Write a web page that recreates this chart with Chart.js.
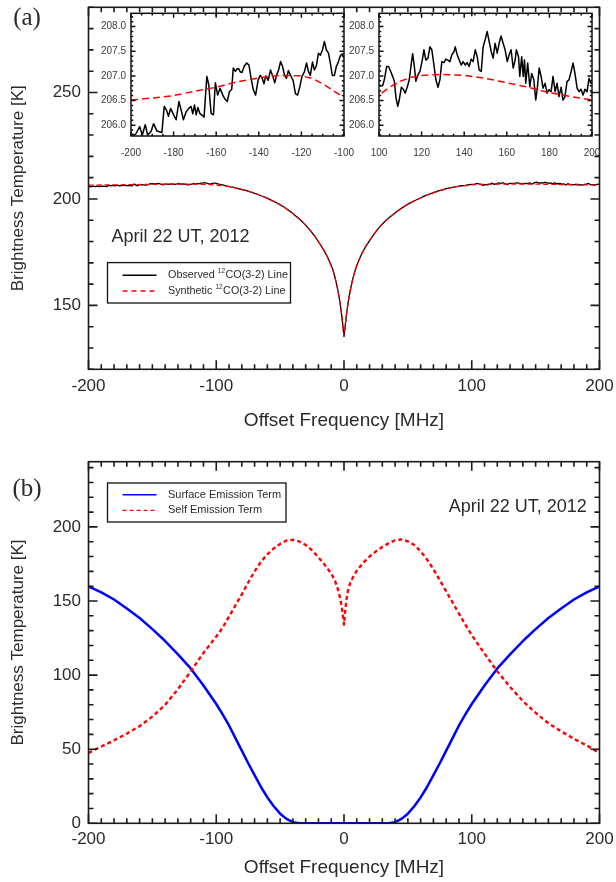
<!DOCTYPE html>
<html>
<head>
<meta charset="utf-8">
<script src="https://cdn.jsdelivr.net/npm/chart.js@4.4.1/dist/chart.umd.min.js"></script>
<style>
  html, body { margin: 0; padding: 0; background: #fff; }
  #wrap { position: relative; width: 616px; height: 882px; overflow: hidden; background: #fff; }
  canvas { position: absolute; }
</style>
</head>
<body>
<div id="wrap">
  <canvas id="cA" width="616" height="440" style="left:0;top:0;width:616px;height:440px"></canvas>
  <canvas id="cL" width="265" height="175" style="left:90px;top:0;width:265px;height:175px"></canvas>
  <canvas id="cR" width="278" height="175" style="left:338px;top:0;width:278px;height:175px"></canvas>
  <canvas id="cB" width="616" height="442" style="left:0;top:440px;width:616px;height:442px"></canvas>
</div>
<script>
// ---------- tick labels ----------
const freqTicks = [-200, -100, 0, 100, 200];
const tempTicksA = [150, 200, 250];
const tempTicksB = [0, 50, 100, 150, 200];
const zoomTempTicks = [206.0, 206.5, 207.0, 207.5, 208.0];
const zoomFreqTicksL = [-200, -180, -160, -140, -120, -100];
const zoomFreqTicksR = [100, 120, 140, 160, 180, 200];

// ---------- observed 12CO(3-2) line, [offset MHz, T_B K] ----------
const obsWingLeft = [
  [-200.0,205.82],[-198.0,205.80],[-195.9,205.97],[-194.7,205.80],[-193.3,206.01],[-192.2,205.80],
  [-190.6,205.87],[-189.4,206.03],[-187.8,205.88],[-185.5,205.85],[-184.4,206.38],[-183.3,206.30],
  [-182.4,206.18],[-181.4,206.34],[-180.0,206.21],[-178.8,206.11],[-177.5,206.48],[-176.4,206.30],
  [-175.4,206.11],[-174.1,206.27],[-172.9,206.34],[-171.8,206.38],[-171.0,206.23],[-170.2,206.41],
  [-169.4,206.21],[-168.6,206.36],[-167.7,206.24],[-166.6,206.20],[-165.7,206.16],[-164.4,206.99],
  [-163.5,206.82],[-162.4,206.24],[-161.3,206.21],[-160.4,206.86],[-159.3,206.61],[-158.2,206.75],
  [-156.9,206.61],[-155.9,206.53],[-154.8,206.48],[-153.8,206.68],[-152.7,206.73],[-152.0,207.16],
  [-151.0,207.09],[-150.2,207.14],[-149.5,207.15],[-148.7,207.08],[-147.9,207.07],[-146.8,207.20],
  [-145.7,207.26],[-144.6,207.22],[-143.7,206.97],[-142.6,206.72],[-141.5,206.61],[-140.3,206.92],
  [-139.3,207.01],[-138.4,206.95],[-137.6,206.84],[-136.7,207.00],[-135.6,206.91],[-134.5,207.12],
  [-133.5,207.00],[-132.5,206.86],[-131.7,207.01],[-130.7,207.12],[-129.8,207.29],[-128.9,207.20],
  [-127.9,207.01],[-127.0,206.95],[-126.1,207.11],[-125.1,207.01],[-123.9,206.91],[-122.8,206.64],
  [-121.8,206.61],[-120.8,206.77],[-119.7,206.99],[-118.6,207.08],[-117.6,207.26],[-116.7,207.09],
  [-115.8,207.01],[-114.8,207.28],[-113.9,207.12],[-113.0,207.20],[-112.0,207.46],[-111.1,207.42],
  [-110.1,207.53],[-109.2,207.70],[-108.3,207.53],[-107.3,207.46],[-106.4,207.26],[-105.5,207.01],
  [-104.5,207.01],[-103.6,207.19],[-102.7,207.28],[-101.7,207.41],[-100.8,207.45],[-100.0,207.36]
];
const obsCore = [
  [-98,207.0],[-95,206.6],[-92,206.1],[-89,205.7],[-86,205.4],[-83,204.9],[-80,204.4],[-77,204.0],
  [-74,203.4],[-71,202.9],[-68,202.2],[-65,201.5],[-62,200.9],[-59,200.0],[-56,199.1],[-53,198.3],
  [-50,197.2],[-47,196.2],[-44,194.9],[-41,193.6],[-38,192.1],[-35,190.6],[-32,188.9],[-29,187.0],
  [-26,184.9],[-23,182.6],[-20,179.9],[-17,177.1],[-14,174.0],[-11,170.2],[-9,167.3],[-7,163.1],
  [-5,157.8],[-3,151.0],[-2,146.3],[-1,141.2],[0,135.4],[1,140.8],[2,146.1],[3,150.6],[5,157.4],
  [7,162.8],[9,167.0],[11,170.3],[14,174.4],[17,177.6],[20,180.4],[23,183.0],[26,185.5],[29,187.6],
  [32,189.4],[35,191.1],[38,192.5],[41,193.9],[44,195.3],[47,196.4],[50,197.6],[53,198.5],[56,199.4],
  [59,200.2],[62,201.1],[65,201.9],[68,202.5],[71,203.2],[74,203.8],[77,204.3],[80,204.8],[83,205.2],
  [86,205.6],[89,205.9],[92,206.2],[95,206.4],[98,206.7]
];
const obsWingRight = [
  [100.0,206.82],[100.8,206.80],[101.7,206.80],[102.5,206.92],[103.6,207.19],[104.5,207.19],
  [105.5,207.09],[106.4,206.99],[107.2,206.89],[108.0,206.55],[108.8,206.38],[109.5,206.51],
  [110.5,206.77],[111.4,206.73],[112.3,206.65],[113.3,206.78],[114.2,206.92],[115.0,207.19],
  [115.8,207.45],[116.6,207.19],[117.3,206.89],[118.3,207.02],[119.2,207.09],[120.2,207.29],
  [121.1,207.53],[122.0,207.32],[123.0,207.36],[123.9,207.59],[124.8,207.53],[125.8,207.22],
  [126.7,206.92],[127.7,206.77],[128.6,206.92],[129.5,207.29],[130.5,207.27],[131.4,207.34],
  [132.3,207.32],[133.3,207.29],[134.2,207.43],[135.2,207.49],[135.8,207.59],[136.7,207.43],
  [137.7,207.32],[138.6,207.22],[139.5,207.29],[140.5,207.22],[141.4,207.27],[142.3,207.19],
  [143.3,207.34],[144.2,207.29],[145.2,207.53],[146.1,207.39],[147.0,207.12],[148.0,207.09],
  [148.9,207.59],[149.8,207.73],[150.8,207.90],[151.7,207.70],[152.7,207.49],[153.6,207.36],
  [154.5,207.66],[155.5,207.46],[156.4,207.66],[157.3,207.81],[158.3,207.66],[159.2,207.53],
  [160.2,207.29],[161.1,207.43],[162.0,207.53],[163.0,207.16],[163.9,207.32],[164.5,207.53],
  [165.5,207.39],[166.1,206.99],[167.0,207.39],[167.7,206.99],[168.3,207.32],[168.9,206.85],
  [169.8,207.26],[170.8,206.78],[171.7,207.05],[172.7,206.92],[173.6,206.51],[174.4,206.78],
  [175.2,207.16],[176.1,206.99],[177.0,206.75],[178.0,206.85],[178.9,206.65],[179.8,206.72],
  [180.8,206.68],[181.7,206.99],[182.7,206.68],[183.6,206.85],[184.5,206.58],[185.5,206.77],
  [186.4,206.51],[187.3,206.58],[188.3,206.89],[189.2,206.92],[190.2,207.09],[191.1,207.26],
  [192.0,207.05],[193.0,206.75],[193.9,206.68],[194.8,206.73],[195.8,206.61],[196.7,206.73],
  [197.7,206.68],[198.6,206.95],[199.5,206.85],[200.0,206.86]
];

// ---------- synthetic 12CO(3-2) line ----------
const synthetic = [
  [-200,206.51],[-190,206.55],[-180,206.60],[-170,206.69],[-160,206.77],[-150,206.88],[-140,206.96],
  [-130,207.01],[-120,207.00],[-115,206.95],[-110,206.84],[-105,206.70],[-100,206.56],[-95,206.25],
  [-90,205.8],[-85,205.2],[-80,204.5],[-75,203.7],[-70,202.7],[-65,201.6],[-60,200.3],[-55,198.9],
  [-50,197.3],[-45,195.4],[-40,193.2],[-35,190.7],[-30,187.7],[-25,184.3],[-20,180.0],[-16,176.3],
  [-13,172.8],[-10,168.6],[-8,165.2],[-6,160.6],[-4,154.5],[-2,146.5],[0,135.6],[2,146.0],[4,154.0],
  [6,160.2],[8,165.0],[10,168.8],[13,173.2],[16,176.8],[20,180.6],[25,184.8],[30,188.2],[35,191.0],
  [40,193.5],[45,195.6],[50,197.5],[55,199.1],[60,200.5],[65,201.8],[70,202.9],[75,203.9],[80,204.7],
  [85,205.4],[90,205.9],[95,206.3],[100,206.61],[105,206.77],[110,206.89],[115,206.97],[120,207.01],
  [130,207.03],[140,207.01],[150,206.95],[160,206.86],[170,206.77],[180,206.66],[190,206.58],[200,206.51]
];

// ---------- panel (b): emission terms ----------
const surfaceTerm = [
  [-200,159.9],[-190,155.8],[-180,151],[-170,145],[-160,138.5],[-150,131],[-140,123],[-130,114],
  [-120,104.5],[-110,93],[-100,80.5],[-95,73.5],[-90,66],[-85,57.5],[-80,49],[-75,40.5],[-70,32.5],
  [-65,24.5],[-60,17.5],[-55,11.5],[-50,6.5],[-45,3],[-40,0.8],[-35,0.1],[-30,0],[-20,0],[-10,0],
  [0,0],[10,0],[20,0],[30,0],[35,0.1],[40,0.8],[45,3],[50,6.5],[55,11.5],[60,17.5],[65,24.5],
  [70,32.5],[75,40.5],[80,49],[85,57.5],[90,66],[95,73.5],[100,80.5],[110,93],[120,104.5],[130,114],
  [140,123],[150,131],[160,138.5],[170,145],[180,151],[190,155.8],[200,159.9]
];
const selfTerm = [
  [-200,47.5],[-190,51.8],[-180,56],[-170,60.5],[-160,65.5],[-150,72],[-140,80],[-130,90.5],
  [-120,102.5],[-110,115],[-100,126],[-95,132],[-90,139.5],[-85,147],[-80,154.5],[-75,162.5],
  [-70,170],[-65,176.5],[-60,181.5],[-55,185.5],[-50,188.5],[-45,190.8],[-40,191.3],[-35,190.2],
  [-30,187.8],[-25,184.2],[-20,179.5],[-15,174.3],[-10,168.5],[-7,163.5],[-5,158.5],[-3,152],
  [-1.5,144.5],[0,134],[1,144],[2,151.5],[3,156.5],[5,162.5],[7,166],[10,170.5],[15,175.8],[20,180],
  [25,183.5],[30,186.5],[35,189],[40,191],[45,191.5],[50,190.3],[55,187.8],[60,183.5],[65,178],
  [70,171.5],[75,164],[80,156.5],[85,149],[90,141.5],[95,134],[100,127],[110,114.5],[120,102.5],
  [130,92],[140,82.5],[150,74.5],[160,67.5],[170,62],[180,57],[190,52.5],[200,47.5]
];

// ---------- helpers ----------
const SANS = "'Liberation Sans', Arimo, Arial, sans-serif";
const INK = '#2b2b2b';
Chart.defaults.font.family = SANS;
Chart.defaults.color = INK;

const pts = arr => arr.map(([x, y]) => ({ x, y }));
const keepTicks = vals => s => { s.ticks = vals.map(v => ({ value: v })); };
const zeroPad = s => { s.paddingTop = 0; s.paddingBottom = 0; s.paddingLeft = 0; s.paddingRight = 0; };
const fixWidth = w => s => { s.width = w; zeroPad(s); };
const fixHeight = h => s => { s.height = h; zeroPad(s); };

// inward IDL-style ticks on all four sides plus the frame
function frameTicks(cfg) {
  return {
    id: 'frameTicks',
    afterDatasetsDraw(chart) {
      const { ctx, chartArea: a } = chart;
      const sx = chart.scales.x, sy = chart.scales.y;
      const marks = (scale, major, step) => {
        const out = [];
        const n0 = Math.ceil(scale.min / step - 1e-6), n1 = Math.floor(scale.max / step + 1e-6);
        for (let i = n0; i <= n1; i++) {
          const v = i * step;
          const isMajor = major.some(m => Math.abs(m - v) < step / 100);
          out.push([scale.getPixelForValue(v), isMajor ? cfg.major : cfg.minor]);
        }
        return out;
      };
      ctx.save();
      ctx.strokeStyle = cfg.color;
      ctx.lineWidth = cfg.width;
      ctx.beginPath();
      for (const [px, len] of marks(sx, cfg.xMajor, cfg.xStep)) {
        ctx.moveTo(px, a.bottom); ctx.lineTo(px, a.bottom - len);
        ctx.moveTo(px, a.top); ctx.lineTo(px, a.top + len);
      }
      for (const [py, len] of marks(sy, cfg.yMajor, cfg.yStep)) {
        ctx.moveTo(a.left, py); ctx.lineTo(a.left + len, py);
        ctx.moveTo(a.right, py); ctx.lineTo(a.right - len, py);
      }
      ctx.stroke();
      ctx.strokeRect(a.left, a.top, a.right - a.left, a.bottom - a.top);
      ctx.restore();
    }
  };
}

// free text: panel tags (canvas pixels) and annotations (data coordinates)
function notes(items) {
  return {
    id: 'notes',
    afterDraw(chart) {
      const { ctx } = chart;
      ctx.save();
      for (const t of items) {
        ctx.font = t.font;
        ctx.fillStyle = t.color || INK;
        ctx.textAlign = t.align || 'left';
        ctx.textBaseline = 'middle';
        const x = t.data ? chart.scales.x.getPixelForValue(t.x) : t.x;
        const y = t.data ? chart.scales.y.getPixelForValue(t.y) : t.y;
        ctx.fillText(t.text, x, y);
      }
      ctx.restore();
    }
  };
}

// text with superscript digits (¹²) drawn small and raised
const SUP = { '\u00B9': '1', '\u00B2': '2', '\u00B3': '3' };
function richText(ctx, text, x, y, size, color) {
  ctx.fillStyle = color;
  ctx.textBaseline = 'middle';
  ctx.textAlign = 'left';
  let buf = '', sup = false;
  const flush = () => {
    if (!buf) return;
    const fs = sup ? size * 0.6 : size;
    ctx.font = fs + 'px ' + SANS;
    ctx.fillText(buf, x, sup ? y - size * 0.36 : y);
    x += ctx.measureText(buf).width + (sup ? 0.5 : 0);
    buf = '';
  };
  for (const ch of text) {
    const s = ch in SUP;
    if (s !== sup) { flush(); sup = s; }
    buf += s ? SUP[ch] : ch;
  }
  flush();
}

// boxed legend inside the plot area
function boxLegend(cfg) {
  return {
    id: 'boxLegend',
    afterDraw(chart) {
      const { ctx, chartArea: a } = chart;
      const L = a.left + cfg.dx, T = a.top + cfg.dy;
      ctx.save();
      ctx.fillStyle = '#fff';
      ctx.fillRect(L, T, cfg.w, cfg.h);
      ctx.strokeStyle = '#111';
      ctx.lineWidth = 1.3;
      ctx.strokeRect(L, T, cfg.w, cfg.h);
      chart.data.datasets.forEach((ds, i) => {
        const y = T + cfg.rows[i];
        ctx.beginPath();
        ctx.strokeStyle = ds.borderColor;
        ctx.lineWidth = cfg.lineWidth;
        ctx.setLineDash(ds.borderDash ? cfg.dash : []);
        ctx.moveTo(L + cfg.lineX, y);
        ctx.lineTo(L + cfg.lineX + cfg.lineLen, y);
        ctx.stroke();
        ctx.setLineDash([]);
        richText(ctx, ds.label, L + cfg.textX, y, cfg.fontSize, INK);
      });
      ctx.restore();
    }
  };
}

const noGrid = { grid: { display: false, drawTicks: false }, border: { display: false } };
const baseOpts = {
  responsive: false,
  animation: false,
  events: [],
  elements: { point: { radius: 0 }, line: { tension: 0, borderJoinStyle: 'round', fill: false } }
};
const quiet = { legend: { display: false }, tooltip: { enabled: false } };

// ---------- panel (a) ----------
const observedA = [...obsWingLeft, ...obsCore, ...obsWingRight];

new Chart(document.getElementById('cA'), {
  type: 'line',
  data: {
    datasets: [
      { label: 'Observed \u00B9\u00B2CO(3-2) Line', data: pts(observedA), borderColor: '#000000', borderWidth: 1.3, order: 1 },
      { label: 'Synthetic \u00B9\u00B2CO(3-2) Line', data: pts(synthetic), borderColor: '#ff0000', borderWidth: 1.3, borderDash: [5, 3], order: 0 }
    ]
  },
  options: {
    ...baseOpts,
    layout: { padding: { left: 0, right: 16.5, top: 7.3, bottom: 0 } },
    scales: {
      x: {
        type: 'linear', min: -200, max: 200, ...noGrid,
        afterBuildTicks: keepTicks(freqTicks), afterFit: fixHeight(70.7),
        ticks: { font: { size: 17 }, color: INK, padding: 7, maxRotation: 0, autoSkip: false, callback: v => String(v) },
        title: { display: true, text: 'Offset Frequency [MHz]', font: { size: 19 }, color: INK, padding: { top: 0, bottom: 7.6 } }
      },
      y: {
        type: 'linear', min: 120, max: 290, ...noGrid,
        afterBuildTicks: keepTicks(tempTicksA), afterFit: fixWidth(88.5),
        ticks: { font: { size: 17 }, color: INK, padding: 7.5, callback: v => String(v) },
        title: { display: true, text: 'Brightness Temperature [K]', font: { size: 17 }, color: INK, padding: { top: 8.5, bottom: 0 } }
      }
    },
    plugins: quiet
  },
  plugins: [
    frameTicks({ xMajor: freqTicks, xStep: 10, yMajor: tempTicksA, yStep: 10, major: 9, minor: 5, width: 1.6, color: '#1a1a1a' }),
    notes([
      { text: '(a)', x: 27, y: 18, font: "25px 'Liberation Serif', 'DejaVu Serif', serif", align: 'center' },
      { text: 'April 22 UT, 2012', data: true, x: -182, y: 182, font: '18px ' + SANS, align: 'left' }
    ]),
    boxLegend({ dx: 19, dy: 255.3, w: 183, h: 40.4, rows: [12.7, 28.4], lineX: 15, lineLen: 34, textX: 60.5, fontSize: 10.8, lineWidth: 1.4, dash: [5, 4] })
  ]
});

// ---------- zoomed wings ----------
function wingChart(id, xMin, xMax, xTicks, obs, rightPad) {
  return new Chart(document.getElementById(id), {
    type: 'line',
    data: {
      datasets: [
        { label: 'Observed', data: pts(obs), borderColor: '#000000', borderWidth: 1.5, order: 1 },
        { label: 'Synthetic', data: pts(synthetic), borderColor: '#ff0000', borderWidth: 1.5, borderDash: [7, 4], order: 0 }
      ]
    },
    options: {
      ...baseOpts,
      layout: { padding: { left: 0, right: rightPad, top: 13.3, bottom: 0 } },
      scales: {
        x: {
          type: 'linear', min: xMin, max: xMax, ...noGrid,
          afterBuildTicks: keepTicks(xTicks), afterFit: fixHeight(39),
          ticks: { font: { size: 10 }, color: '#3a3a3a', padding: 11, maxRotation: 0, autoSkip: false, callback: v => String(v) }
        },
        y: {
          type: 'linear', min: 205.78, max: 208.27, ...noGrid,
          afterBuildTicks: keepTicks(zoomTempTicks), afterFit: fixWidth(41),
          ticks: { font: { size: 10 }, color: '#3a3a3a', padding: 5, callback: v => Number(v).toFixed(1) }
        }
      },
      plugins: quiet
    },
    plugins: [
      frameTicks({ xMajor: xTicks, xStep: 5, yMajor: zoomTempTicks, yStep: 0.1, major: 4.5, minor: 2.2, width: 1.5, color: '#111' })
    ]
  });
}
wingChart('cL', -200, -100, zoomFreqTicksL, obsWingLeft, 11);
wingChart('cR', 100, 200, zoomFreqTicksR, obsWingRight, 24);

// ---------- panel (b) ----------
new Chart(document.getElementById('cB'), {
  type: 'line',
  data: {
    datasets: [
      { label: 'Surface Emission Term', data: pts(surfaceTerm), borderColor: '#0000ff', borderWidth: 2.5, order: 1 },
      { label: 'Self Emission Term', data: pts(selfTerm), borderColor: '#ff0000', borderWidth: 2.4, borderDash: [4, 3], order: 0 }
    ]
  },
  options: {
    ...baseOpts,
    layout: { padding: { left: 0, right: 16.5, top: 21.7, bottom: 0 } },
    scales: {
      x: {
        type: 'linear', min: -200, max: 200, ...noGrid,
        afterBuildTicks: keepTicks(freqTicks), afterFit: fixHeight(58.7),
        ticks: { font: { size: 17 }, color: INK, padding: 6, maxRotation: 0, autoSkip: false, callback: v => String(v) },
        title: { display: true, text: 'Offset Frequency [MHz]', font: { size: 19 }, color: INK, padding: { top: 0, bottom: 2.6 } }
      },
      y: {
        type: 'linear', min: 0, max: 244, ...noGrid,
        afterBuildTicks: keepTicks(tempTicksB), afterFit: fixWidth(88.5),
        ticks: { font: { size: 17 }, color: INK, padding: 7.5, callback: v => String(v) },
        title: { display: true, text: 'Brightness Temperature [K]', font: { size: 17 }, color: INK, padding: { top: 8.5, bottom: 0 } }
      }
    },
    plugins: quiet
  },
  plugins: [
    frameTicks({ xMajor: freqTicks, xStep: 10, yMajor: tempTicksB, yStep: 10, major: 9, minor: 5, width: 1.6, color: '#1a1a1a' }),
    notes([
      { text: '(b)', x: 27, y: 49, font: "25px 'Liberation Serif', 'DejaVu Serif', serif", align: 'center' },
      { text: 'April 22 UT, 2012', data: true, x: 190, y: 213.5, font: '18px ' + SANS, align: 'right' }
    ]),
    boxLegend({ dx: 19, dy: 21.3, w: 178.5, h: 39, rows: [11.7, 27.4], lineX: 15, lineLen: 34, textX: 60.5, fontSize: 11, lineWidth: 1.4, dash: [4, 3] })
  ]
});
</script>
</body>
</html>
